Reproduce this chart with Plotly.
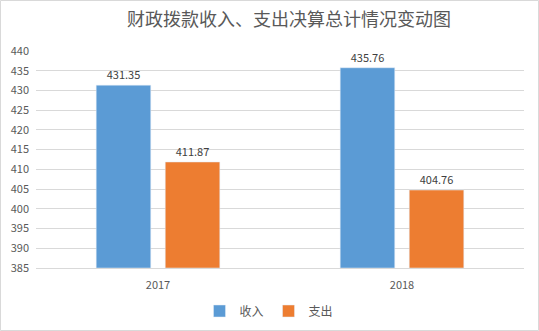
import plotly.graph_objects as go

categories = ["2017", "2018"]
income = [431.35, 435.76]
expense = [411.87, 404.76]
series_names = ["收入", "支出"]
title_text = "财政拨款收入、支出决算总计情况变动图"

W, H = 539, 331
ml, mr, mt, mb = 36, 15, 51, 63
font_family = "Noto Sans CJK SC, Microsoft YaHei, sans-serif"

fig = go.Figure()
fig.add_trace(go.Bar(
    x=categories, y=[v - 385 for v in income], base=385, name=series_names[0],
    marker_color="#5B9BD5", text=[f"{v:.2f}" for v in income],
    textposition="outside", textfont=dict(size=11, color="#404040"),
    cliponaxis=False, hoverinfo="skip"))
fig.add_trace(go.Bar(
    x=categories, y=[v - 385 for v in expense], base=385, name=series_names[1],
    marker_color="#ED7D31", text=[f"{v:.2f}" for v in expense],
    textposition="outside", textfont=dict(size=11, color="#404040"),
    cliponaxis=False, hoverinfo="skip"))

pw = W - ml - mr
ph = H - mt - mb

fig.update_layout(
    width=W, height=H,
    margin=dict(l=ml, r=mr, t=mt, b=mb, autoexpand=False),
    paper_bgcolor="white", plot_bgcolor="white",
    font=dict(family=font_family, size=11, color="#595959"),
    title=dict(text=title_text, x=289 / W, xanchor="center", y=1 - 20 / H, yanchor="middle",
               font=dict(size=18, color="#595959", family=font_family)),
    barmode="group", bargap=0.434, bargroupgap=0.21,
    showlegend=True,
    legend=dict(orientation="h", x=(268.5 - ml) / pw, xanchor="center",
                yref="container", y=1 - 311 / H, yanchor="middle",
                font=dict(size=12, color="#595959"), itemwidth=30,
                entrywidth=24, traceorder="normal"),
    xaxis=dict(type="category", showline=True, linecolor="#D9D9D9", ticks="",
               tickfont=dict(size=11, color="#595959"), automargin=False,
               ticklabelstandoff=7),
    yaxis=dict(range=[385, 440], dtick=5, tick0=385, showgrid=True, gridcolor="#D9D9D9",
               zeroline=False, showline=False, ticks="", tickfont=dict(size=11, color="#595959"),
               ticklabelstandoff=6, automargin=False),
    shapes=[dict(type="rect", xref="paper", yref="paper",
                 x0=-(ml - 0.5) / pw, x1=1 + (mr - 0.5) / pw,
                 y0=-(mb - 0.5) / ph, y1=1 + (mt - 0.5) / ph,
                 line=dict(color="#D9D9D9", width=1), layer="below")],
)

fig.write_html("out.html")
